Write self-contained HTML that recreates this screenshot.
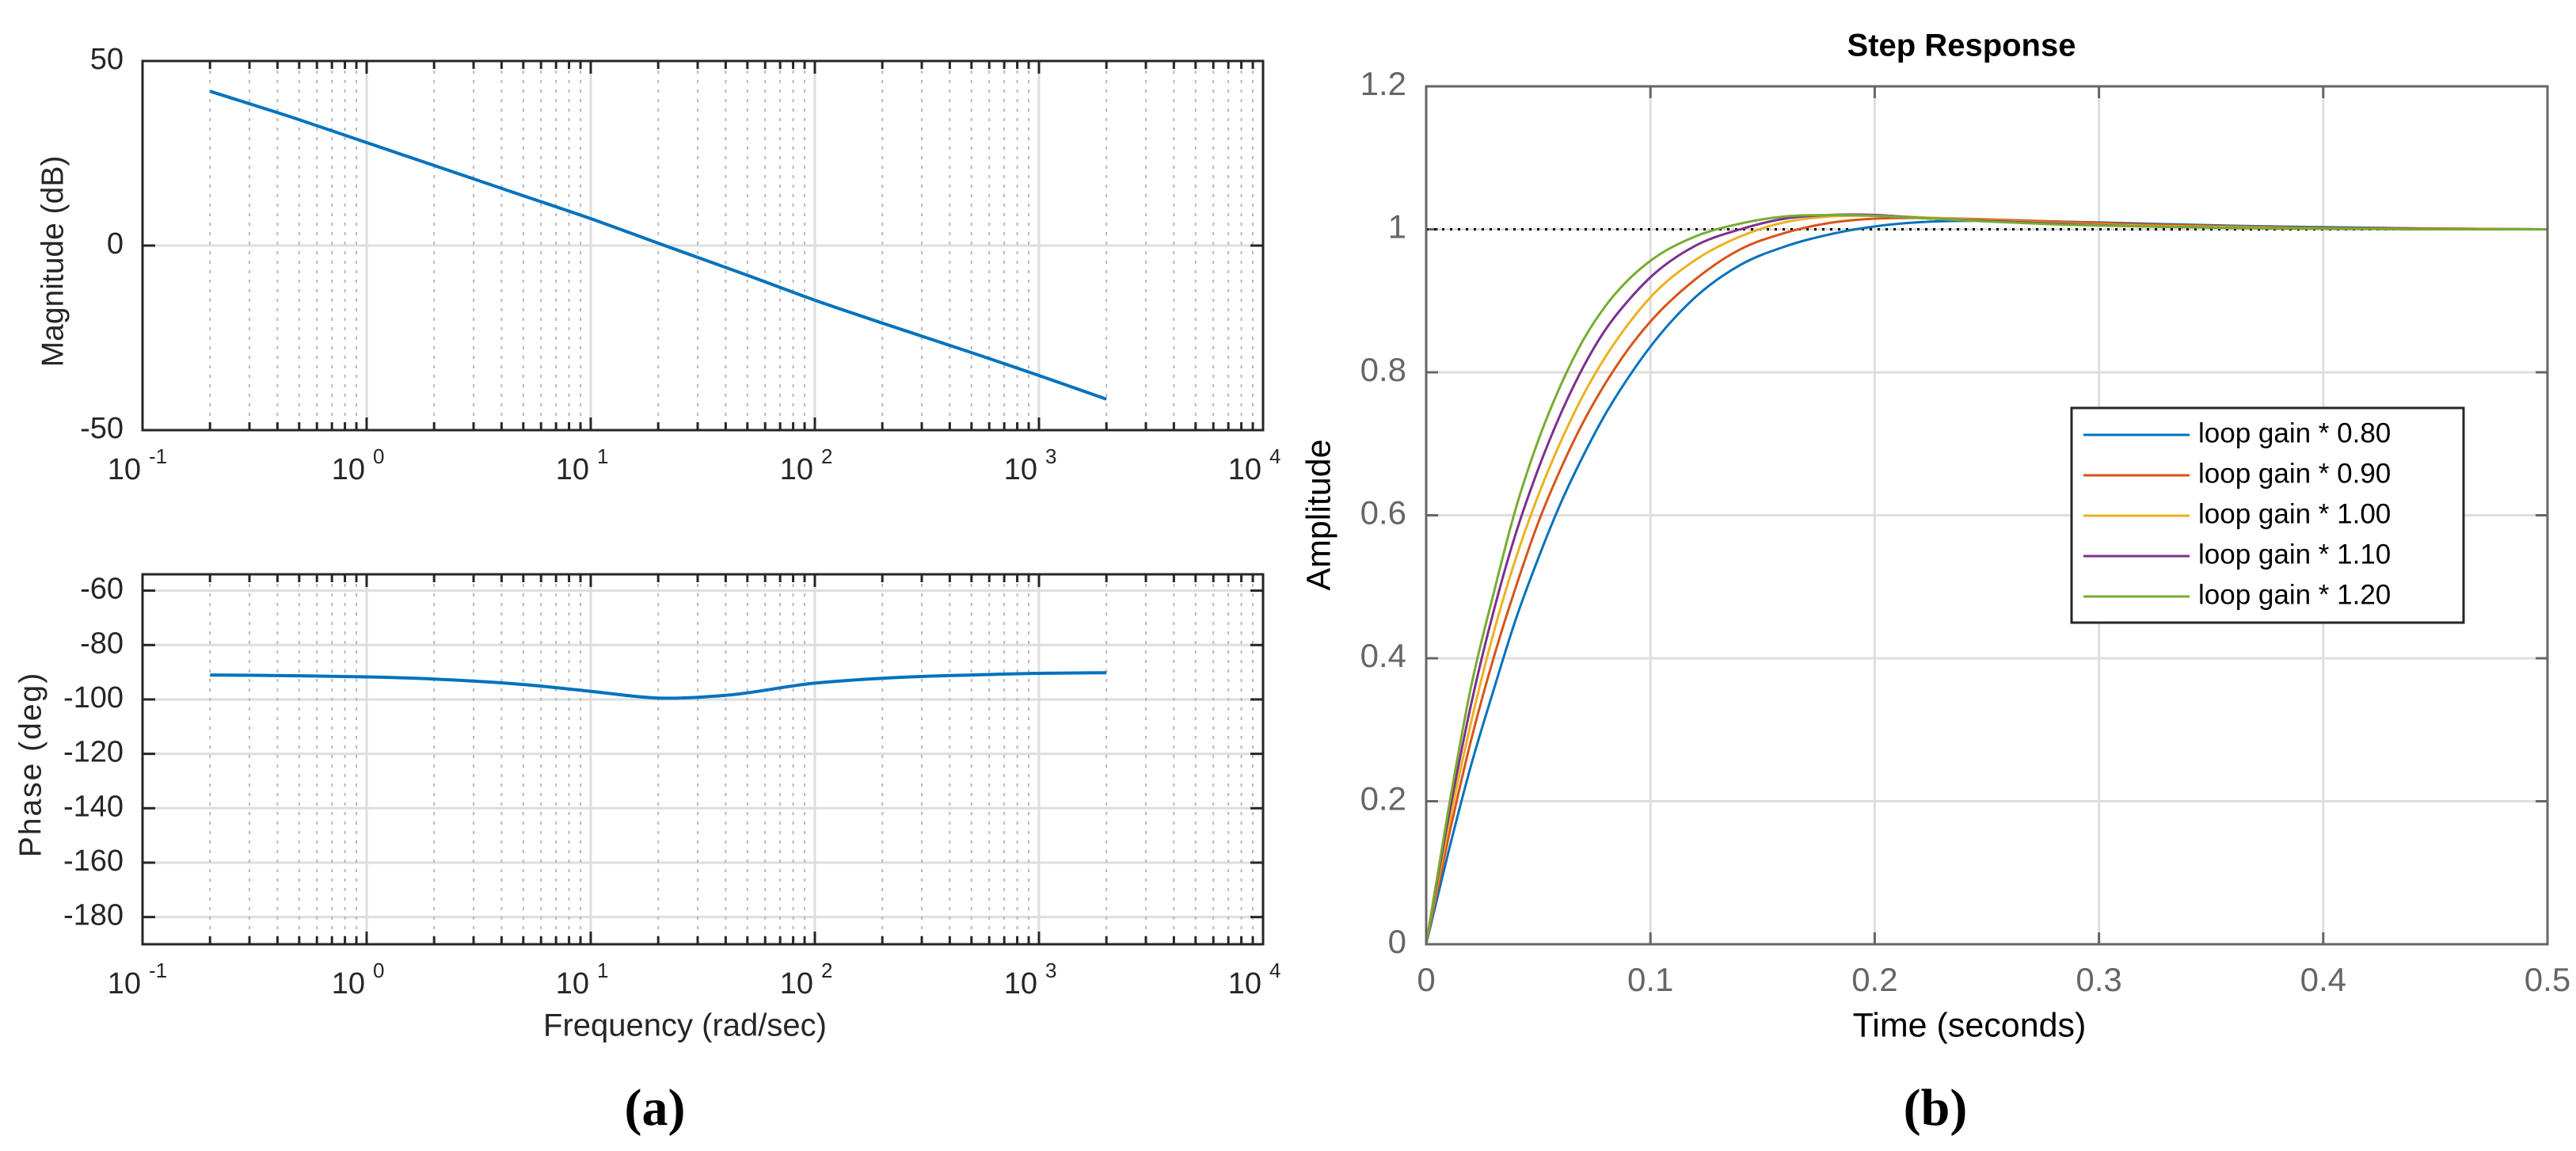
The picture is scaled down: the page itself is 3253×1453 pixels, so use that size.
<!DOCTYPE html>
<html><head><meta charset="utf-8">
<style>
html,body{margin:0;padding:0;background:#fff;}
svg{display:block;font-family:"Liberation Sans",Arial,sans-serif;}
</style></head>
<body>
<svg id="fig" width="3253" height="1453" viewBox="0 0 3253 1453" xmlns="http://www.w3.org/2000/svg">
<rect x="0" y="0" width="3253" height="1453" fill="#fff"/>
<g id="mag"></g>
<g id="phase"></g>
<g id="step"></g>
<text x="69" y="330" transform="rotate(-90 69 330)" text-anchor="middle" dominant-baseline="middle" font-size="39" fill="#262626">Magnitude (dB)</text>
<text x="41" y="965" transform="rotate(-90 41 965)" text-anchor="middle" dominant-baseline="middle" font-size="39" letter-spacing="2" fill="#262626">Phase (deg)</text>
<text x="865" y="1297" text-anchor="middle" dominant-baseline="middle" font-size="40" fill="#262626">Frequency (rad/sec)</text>
<text x="827" y="1420" text-anchor="middle" font-size="66" font-weight="bold" font-family="Liberation Serif, serif" fill="#000">(a)</text>
<text x="2477" y="60" text-anchor="middle" dominant-baseline="middle" font-size="40" font-weight="bold" fill="#000">Step Response</text>
<text x="1668" y="650" transform="rotate(-90 1668 650)" text-anchor="middle" dominant-baseline="middle" font-size="43" fill="#000">Amplitude</text>
<text x="2487" y="1297" text-anchor="middle" dominant-baseline="middle" font-size="43" fill="#000">Time (seconds)</text>
<text x="2444" y="1420" text-anchor="middle" font-size="66" font-weight="bold" font-family="Liberation Serif, serif" fill="#000">(b)</text>
</svg>
<script>
// ---- Bode data ----
const bodeFreq = [0.2,0.5,1,2,5,10,20,50,100,200,500,1000,2000];
const magDb = [41.8,34.1,27.9,21.7,13.5,7.3,0.65,-8.05,-14.8,-21,-29.0,-35.2,-41.6];
const phaseFreq = [0.2,0.5,1,2,5,10,20,40,100,200,500,1000,2000];
const phaseDeg = [-91,-91.3,-91.7,-92.5,-94.5,-97,-99.5,-98.5,-94,-92.2,-91,-90.4,-90.2];
const decadeExps = [-1,0,1,2,3,4];
const magTicks = [-50,0,50];
const phaseTicks = [-180,-160,-140,-120,-100,-80,-60];
// ---- Step response data ----
const stepTime = [0,0.01,0.02,0.03,0.04,0.05,0.06,0.07,0.08,0.09,0.1,0.12,0.14,0.16,0.18,0.2,0.22,0.25,0.28,0.32,0.36,0.4,0.45,0.5];
const gain080 = [0,0.13,0.25,0.355,0.455,0.54,0.617,0.683,0.742,0.792,0.836,0.905,0.95,0.976,0.993,1.004,1.01,1.012,1.011,1.008,1.005,1.003,1.001,1.0];
const gain090 = [0,0.15,0.285,0.40,0.50,0.59,0.665,0.73,0.785,0.832,0.871,0.93,0.972,0.995,1.009,1.015,1.016,1.014,1.011,1.007,1.004,1.002,1.001,1.0];
const gain100 = [0,0.165,0.31,0.435,0.54,0.628,0.703,0.768,0.822,0.867,0.905,0.957,0.99,1.01,1.018,1.019,1.017,1.013,1.009,1.005,1.003,1.001,1.0,1.0];
const gain110 = [0,0.178,0.335,0.465,0.575,0.665,0.742,0.807,0.86,0.9,0.933,0.977,1.0,1.015,1.02,1.02,1.016,1.012,1.008,1.004,1.002,1.001,1.0,1.0];
const gain120 = [0,0.19,0.36,0.49,0.61,0.705,0.782,0.845,0.893,0.929,0.956,0.99,1.008,1.018,1.02,1.019,1.016,1.011,1.007,1.004,1.002,1.001,1.0,1.0];
const legendLabels = ["loop gain * 0.80","loop gain * 0.90","loop gain * 1.00","loop gain * 1.10","loop gain * 1.20"];
const timeTicks = [0,0.1,0.2,0.3,0.4,0.5];
const ampTicks = [0,0.2,0.4,0.6,0.8,1,1.2];
const ampTickLabels = ["0","0.2","0.4","0.6","0.8","1","1.2"];

const NS = "http://www.w3.org/2000/svg";
function mk(parent, tag, attrs, text){
  const e = document.createElementNS(NS, tag);
  for (const k in attrs) e.setAttribute(k, attrs[k]);
  if (text !== undefined) e.textContent = text;
  parent.appendChild(e);
  return e;
}
function smoothPath(pts){
  const n = pts.length;
  const m = pts.map((p, i) => {
    if (i === 0) return (pts[1][1]-p[1])/(pts[1][0]-p[0]);
    if (i === n-1) return (p[1]-pts[n-2][1])/(p[0]-pts[n-2][0]);
    const s0 = (p[1]-pts[i-1][1])/(p[0]-pts[i-1][0]);
    const s1 = (pts[i+1][1]-p[1])/(pts[i+1][0]-p[0]);
    const h0 = p[0]-pts[i-1][0], h1 = pts[i+1][0]-p[0];
    return (s0*h1 + s1*h0)/(h0+h1);
  });
  let d = "M" + pts[0][0].toFixed(1) + "," + pts[0][1].toFixed(1);
  for (let i = 0; i < n - 1; i++){
    const p1 = pts[i], p2 = pts[i+1], h = p2[0]-p1[0];
    d += " C" + (p1[0]+h/3).toFixed(1)+","+(p1[1]+m[i]*h/3).toFixed(1)+" "+(p2[0]-h/3).toFixed(1)+","+(p2[1]-m[i+1]*h/3).toFixed(1)+" "+p2[0].toFixed(1)+","+p2[1].toFixed(1);
  }
  return d;
}

const BL = 180, BR = 1595;
function xLog(f){ return BL + (Math.log10(f) + 1) / 5 * (BR - BL); }

function bodeAxes(g, top, bot, ymin, ymax, yTicks, name, xs, ys){
  const yS = v => bot - (v - ymin) / (ymax - ymin) * (bot - top);
  yTicks.forEach(v => {
    const l = mk(g, "line", {x1:BL, x2:BR, y1:yS(v), y2:yS(v), stroke:"#dedede", "stroke-width":3});
    
    
  });
  decadeExps.forEach((e, i) => {
    const base = Math.pow(10, e);
    const x = xLog(base);
    if (i > 0 && i < decadeExps.length - 1){
      const l = mk(g, "line", {x1:x, x2:x, y1:top, y2:bot, stroke:"#dedede", "stroke-width":3});
      
      
    }
    if (i < decadeExps.length - 1){
      for (let m = 2; m <= 9; m++){
        const xm = xLog(base * m);
        const l = mk(g, "line", {x1:xm, x2:xm, y1:top, y2:bot, stroke:"#b8b8b8", "stroke-width":2, "stroke-dasharray":"4,8"});
        
        
        mk(g, "line", {x1:xm, x2:xm, y1:top, y2:top+10, stroke:"#262626", "stroke-width":3});
        mk(g, "line", {x1:xm, x2:xm, y1:bot, y2:bot-10, stroke:"#262626", "stroke-width":3});
      }
    }
    mk(g, "line", {x1:x, x2:x, y1:top, y2:top+16, stroke:"#262626", "stroke-width":3});
    mk(g, "line", {x1:x, x2:x, y1:bot, y2:bot-16, stroke:"#262626", "stroke-width":3});
    const t = mk(g, "text", {x:x-2, y:bot+62, "text-anchor":"end", "font-size":38, fill:"#262626"}, "10");
    
    
    const s = mk(g, "text", {x:x+8, y:bot+42, "text-anchor":"start", "font-size":26, fill:"#262626"}, String(e));
    
    
  });
  yTicks.forEach(v => {
    const y = yS(v);
    mk(g, "line", {x1:BL, x2:BL+16, y1:y, y2:y, stroke:"#262626", "stroke-width":3});
    mk(g, "line", {x1:BR, x2:BR-16, y1:y, y2:y, stroke:"#262626", "stroke-width":3});
    const t = mk(g, "text", {x:BL-24, y:y, "text-anchor":"end", "dominant-baseline":"middle", "font-size":38, fill:"#262626"}, String(v));
    
    
  });
  const pts = xs.map((f, i) => [xLog(f), yS(ys[i])]);
  const p = mk(g, "path", {d:smoothPath(pts), fill:"none", stroke:"#0072BD", "stroke-width":4});
  
  
  const box = mk(g, "rect", {x:BL, y:top, width:BR-BL, height:bot-top, fill:"none", stroke:"#262626", "stroke-width":3});
  
  
}
bodeAxes(document.getElementById("mag"), 77, 543, -50, 50, magTicks, "magnitude", bodeFreq, magDb);
bodeAxes(document.getElementById("phase"), 725, 1192, -190, -54, phaseTicks, "phase", phaseFreq, phaseDeg);

(function(){
  const g = document.getElementById("step");
  const L = 1801, R = 3217, T = 109, B = 1192;
  const xS = t => L + t / 0.5 * (R - L);
  const yS = a => B - a / 1.2 * (B - T);
  timeTicks.forEach(t => {
    const x = xS(t);
    if (t > 0 && t < 0.5){
      const l = mk(g, "line", {x1:x, x2:x, y1:T, y2:B, stroke:"#dedede", "stroke-width":3});
      
      
    }
    mk(g, "line", {x1:x, x2:x, y1:B, y2:B-15, stroke:"#666", "stroke-width":3});
    mk(g, "line", {x1:x, x2:x, y1:T, y2:T+15, stroke:"#666", "stroke-width":3});
    const lab = mk(g, "text", {x:x, y:1240, "text-anchor":"middle", "dominant-baseline":"middle", "font-size":42, fill:"#666"}, String(t));
    
    
  });
  ampTicks.forEach((a, i) => {
    const y = yS(a);
    if (a > 0 && a < 1.2){
      const l = mk(g, "line", {x1:L, x2:R, y1:y, y2:y, stroke:"#dedede", "stroke-width":3});
      
      
    }
    mk(g, "line", {x1:L, x2:L+15, y1:y, y2:y, stroke:"#666", "stroke-width":3});
    mk(g, "line", {x1:R, x2:R-15, y1:y, y2:y, stroke:"#666", "stroke-width":3});
    const lab = mk(g, "text", {x:1776, y:y, "text-anchor":"end", "dominant-baseline":"middle", "font-size":42, fill:"#666"}, ampTickLabels[i]);
    
    
  });
  const ref = mk(g, "line", {x1:L, x2:R, y1:yS(1), y2:yS(1), stroke:"#000", "stroke-width":3, "stroke-dasharray":"3,7"});
  
  
  const series = [gain080, gain090, gain100, gain110, gain120];
  const colors = ["#0072BD","#D95319","#EDB120","#7E2F8E","#77AC30"];
  series.forEach((s, k) => {
    const pts = stepTime.map((t, i) => [xS(t), yS(s[i])]);
    const p = mk(g, "path", {d:smoothPath(pts), fill:"none", stroke:colors[k], "stroke-width":3});
    
    
  });
  const box = mk(g, "rect", {x:L, y:T, width:R-L, height:B-T, fill:"none", stroke:"#666", "stroke-width":3});
  
  
  const lg = mk(g, "g", {});
  
  
  const lb = mk(lg, "rect", {x:2616, y:515, width:495, height:271, fill:"#fff", stroke:"#262626", "stroke-width":3});
  
  
  legendLabels.forEach((lab, k) => {
    const y = 549 + k * 51;
    const e = mk(lg, "g", {});
    
    
    mk(e, "line", {x1:2631, x2:2765, y1:y, y2:y, stroke:colors[k], "stroke-width":3});
    mk(e, "text", {x:2776, y:y, "dominant-baseline":"middle", "font-size":35, fill:"#000"}, lab);
  });
})();
</script>
</body></html>
